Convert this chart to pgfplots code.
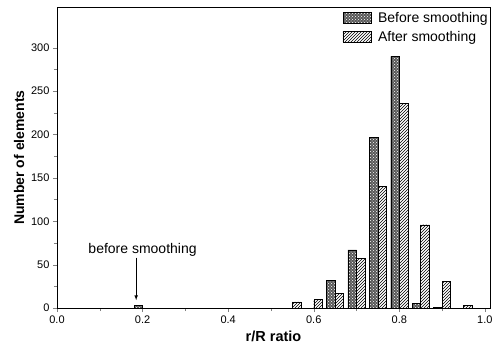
\documentclass[border=0pt]{standalone}
\usepackage{fontspec}
\setmainfont{Liberation Sans}
\usepackage{pgfplots}
\pgfplotsset{compat=1.18}
\usetikzlibrary{patterns}
\begin{document}
\begin{tikzpicture}
\begin{axis}[
  scale only axis,
  width=433pt, height=301pt,
  xmin=0, xmax=1.012, ymin=0, ymax=347,
  xtick={0,0.2,0.4,0.6,0.8,1.0},
  ytick={0,50,100,150,200,250,300},
  minor x tick num=1, minor y tick num=1,
  xtick pos=left, ytick pos=left,
  tick align=outside,
  major tick length=4pt, minor tick length=3pt,
  /pgf/number format/assume math mode=true,
  xticklabel style={/pgf/number format/fixed,/pgf/number format/fixed zerofill,/pgf/number format/precision=1},
  ticklabel style={font=\fontsize{11}{13}\selectfont},
  xlabel={\textbf{r/R ratio}},
  ylabel={\textbf{Number of elements}},
  xlabel style={font=\fontsize{14.5}{16}\selectfont, yshift=-1pt},
  ylabel style={font=\fontsize{14}{16}\selectfont, yshift=0pt},
  legend style={draw=none, fill=none, at={(1,1)}, anchor=north east,
    font=\fontsize{14}{16}\selectfont, row sep=4pt, column sep=5pt, inner xsep=0pt, inner ysep=3pt},
  legend cell align=left,
  legend image code/.code={\draw[#1] (0pt,-5pt) rectangle (28pt,6pt);},
  axis line style={line width=0.9pt},
]
\addplot[ybar, bar width=0.02, bar shift=-0.01, draw=black, fill=black!65,
  postaction={pattern=crosshatch dots, pattern color=white}]
  coordinates {(0.2,3) (0.65,32) (0.7,67) (0.75,197) (0.8,290) (0.85,5) (0.9,1)};
\addlegendentry{Before smoothing}
\addplot[ybar, bar width=0.02, bar shift=0.01, draw=black, fill=white,
  postaction={pattern=north east lines}]
  coordinates {(0.55,7) (0.6,10) (0.65,17) (0.7,57) (0.75,140) (0.8,236) (0.85,96) (0.9,31) (0.95,3)};
\addlegendentry{After smoothing}
\node[font=\fontsize{14}{16}\selectfont, anchor=base] at (axis cs:0.2,63) {before smoothing};
\draw[-latex, line width=0.7pt] (axis cs:0.185,58) -- (axis cs:0.185,9);
\end{axis}
\pgfresetboundingbox
\path ([xshift=-57pt,yshift=-43pt]current axis.south west) rectangle ([xshift=7pt,yshift=7pt]current axis.north east);
\end{tikzpicture}
\end{document}
